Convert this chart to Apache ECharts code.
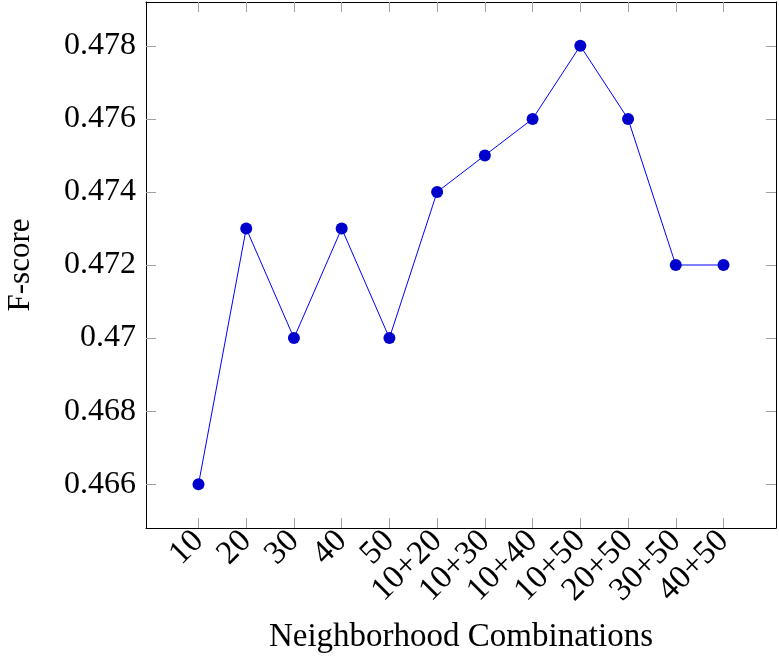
<!DOCTYPE html>
<html>
<head>
<meta charset="utf-8">
<script src="https://cdn.jsdelivr.net/npm/echarts@6/dist/echarts.min.js"></script>
<style>html,body{margin:0;padding:0;background:#fff}#c{width:779px;height:665px}</style>
</head>
<body>
<div id="c"></div>
<script>
var categories = ['10', '20', '30', '40', '50', '10+20', '10+30', '10+40', '10+50', '20+50', '30+50', '40+50'];
var fscores = [0.466, 0.473, 0.470, 0.473, 0.470, 0.474, 0.475, 0.476, 0.478, 0.476, 0.472, 0.472];
var yTicks = [0.466, 0.468, 0.470, 0.472, 0.474, 0.476, 0.478];
var xTicks = categories.map(function (c, i) { return i; });

var FONT = 'Liberation Serif';
var chart = echarts.init(document.getElementById('c'), null, { renderer: 'canvas' });
var tickStyle = { color: '#a0a0a0', width: 1 };
var lineStyle = { color: '#000', width: 1 };
chart.setOption({
  animation: false,
  backgroundColor: '#fff',
  grid: { left: 146, right: 3, top: 2, bottom: 137, containLabel: false, outerBoundsMode: 'none' },
  xAxis: [{
    type: 'value', min: -1.1, max: 12.1,
    position: 'bottom',
    name: 'Neighborhood Combinations', nameLocation: 'middle', nameGap: 93,
    nameTextStyle: { fontFamily: FONT, fontSize: 33, color: '#000' },
    axisLine: { show: true, onZero: false, lineStyle: lineStyle },
    axisTick: { show: true, inside: true, length: 10, lineStyle: tickStyle, customValues: xTicks },
    axisLabel: { show: true, rotate: 45, margin: 8, fontFamily: FONT, fontSize: 33, color: '#000',
      customValues: xTicks, formatter: function (v) { return categories[Math.round(v)]; } },
    splitLine: { show: false }
  }, {
    type: 'value', min: -1.1, max: 12.1, position: 'top',
    axisLine: { show: true, onZero: false, lineStyle: lineStyle },
    axisTick: { show: true, inside: true, length: 10, lineStyle: tickStyle, customValues: xTicks },
    axisLabel: { show: false }, splitLine: { show: false }
  }],
  yAxis: [{
    type: 'value', min: 0.4648, max: 0.4792, position: 'left',
    name: 'F-score', nameLocation: 'middle', nameGap: 110,
    nameTextStyle: { fontFamily: FONT, fontSize: 31, color: '#000' },
    axisLine: { show: true, onZero: false, lineStyle: lineStyle },
    axisTick: { show: true, inside: true, length: 10, lineStyle: tickStyle, customValues: yTicks },
    axisLabel: { show: true, margin: 10, fontFamily: FONT, fontSize: 32, color: '#000',
      customValues: yTicks, formatter: function (v) { return String(parseFloat(v.toFixed(3))); } },
    splitLine: { show: false }
  }, {
    type: 'value', min: 0.4648, max: 0.4792, position: 'right',
    axisLine: { show: true, onZero: false, lineStyle: lineStyle },
    axisTick: { show: true, inside: true, length: 10, lineStyle: tickStyle, customValues: yTicks },
    axisLabel: { show: false }, splitLine: { show: false }
  }],
  series: [{
    type: 'line',
    data: fscores.map(function (v, i) { return [i, v]; }),
    symbol: 'circle', symbolSize: 12,
    lineStyle: { color: '#0000ff', width: 1 },
    itemStyle: { color: '#0000cc' },
    z: 5
  }]
});
</script>
</body>
</html>
